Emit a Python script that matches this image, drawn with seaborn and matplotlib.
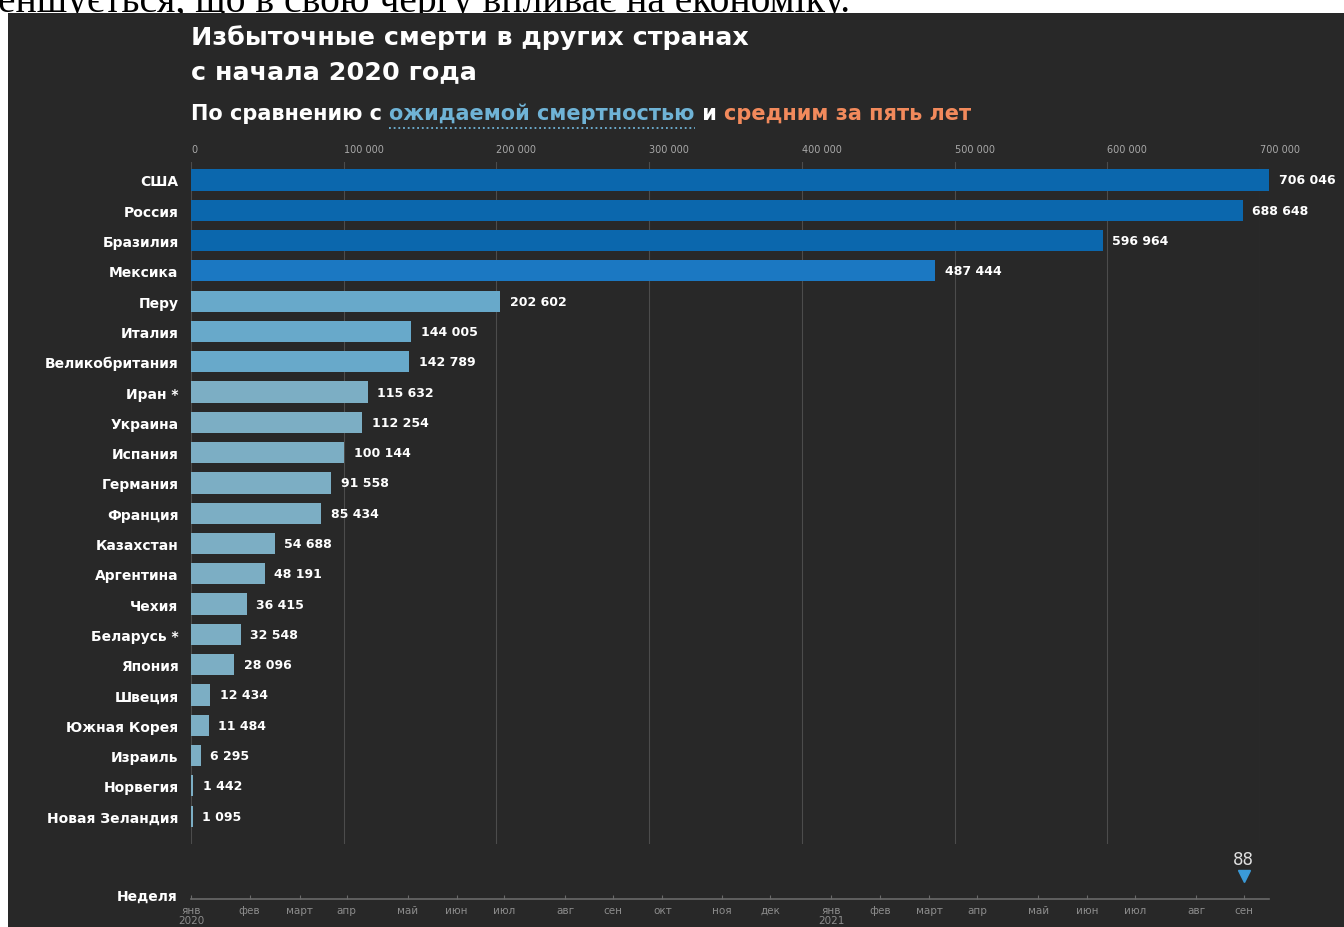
import matplotlib
matplotlib.use("Agg")
import matplotlib.pyplot as plt
import seaborn as sns
from matplotlib.patches import Rectangle
from matplotlib.lines import Line2D

# data
countries = ["США", "Россия", "Бразилия", "Мексика", "Перу", "Италия",
             "Великобритания", "Иран *", "Украина", "Испания", "Германия",
             "Франция", "Казахстан", "Аргентина", "Чехия", "Беларусь *",
             "Япония", "Швеция", "Южная Корея", "Израиль", "Норвегия",
             "Новая Зеландия"]
deaths = [706046, 688648, 596964, 487444, 202602, 144005, 142789, 115632,
          112254, 100144, 91558, 85434, 54688, 48191, 36415, 32548, 28096,
          12434, 11484, 6295, 1442, 1095]
xticks = [0, 100000, 200000, 300000, 400000, 500000, 600000, 700000]

month_labels = ["янв\n2020", "фев", "март", "апр", "май", "июн", "июл", "авг",
                "сен", "окт", "ноя", "дек", "янв\n2021", "фев", "март", "апр",
                "май", "июн", "июл", "авг", "сен"]
month_weeks = [0, 4.9, 9.1, 13, 18.1, 22.2, 26.2, 31.3, 35.3, 39.4, 44.4,
               48.4, 53.5, 57.6, 61.7, 65.7, 70.8, 74.9, 78.9, 84, 88]
current_week = 88

bg = "#282828"
dark_blue = "#0b67ad"
mid_blue = "#1b78c2"
light_blue = "#68a9ca"
pale_blue = "#7caec4"
colors = [dark_blue] * 3 + [mid_blue] + [light_blue] * 3 + [pale_blue] * 15

W, H = 1344, 928
fig = plt.figure(figsize=(W / 100, H / 100), dpi=100, facecolor="white")

# dark panel of the screenshot
fig.add_artist(Rectangle((8 / W, 0), 1, 1 - 14 / H, transform=fig.transFigure,
                         facecolor=bg, edgecolor="none", zorder=-5))
# cut-off line of the surrounding document
fig.text(-2 / W, 1 - 12 / H, "еншується, що в свою чергу впливає на економіку.",
         family="Liberation Serif", fontsize=28.5, color="black", va="baseline",
         ha="left", zorder=-6)

ax = fig.add_axes([191 / W, 1 - 845 / H, 1069 / W, (845 - 163) / H])
ax.set_facecolor("none")
sns.barplot(x=deaths, y=countries, hue=countries, palette=colors,
            saturation=1, legend=False, orient="h", width=0.7, ax=ax, zorder=3)
for p in ax.patches:
    p.set_clip_on(False)
ax.set_xlim(0, 700000)
ax.set_ylim(21.92, -0.594)
ax.xaxis.tick_top()
ax.set_xticks(xticks)
ax.set_xticklabels([f"{t:,}".replace(",", " ") for t in xticks], ha="left")
ax.tick_params(axis="x", length=0, pad=6, labelsize=7, labelcolor="#a8a8a8")
ax.tick_params(axis="y", length=0, pad=9, labelsize=10, labelcolor="white")
for lab in ax.get_yticklabels():
    lab.set_fontweight("bold")
ax.grid(axis="x", color="#4c4c4c", linewidth=0.8, zorder=0)
ax.grid(axis="y", visible=False)
for s in ax.spines.values():
    s.set_visible(False)
ax.set_xlabel("")
ax.set_ylabel("")

for i, v in enumerate(deaths):
    ax.annotate(f"{v:,}".replace(",", " "), xy=(v, i), xytext=(7, 0),
                textcoords="offset points", va="center", ha="left",
                color="white", fontsize=9, fontweight="bold",
                annotation_clip=False)

# titles
fig.text(191 / W, 1 - 45 / H, "Избыточные смерти в других странах",
         color="white", fontsize=18.3, fontweight="bold", va="baseline")
fig.text(191 / W, 1 - 79 / H, "с начала 2020 года",
         color="white", fontsize=18.3, fontweight="bold", va="baseline")

sub = dict(fontsize=15, fontweight="bold", va="bottom", ha="left")
t1 = fig.text(191 / W, 1 - 124 / H, "По сравнению с ", color="white", **sub)
t2 = ax.annotate("ожидаемой смертностью", xy=(1, 0), xycoords=t1,
                 color="#6fb3d6", annotation_clip=False, **sub)
t3 = ax.annotate(" и ", xy=(1, 0), xycoords=t2, color="white",
                 annotation_clip=False, **sub)
ax.annotate("средним за пять лет", xy=(1, 0), xycoords=t3, color="#f28a5c",
            annotation_clip=False, **sub)

# week timeline
ax2 = fig.add_axes([191 / W, 1 - 900 / H, (1269 - 191) / W, 50 / H])
ax2.set_facecolor("none")
ax2.set_xlim(0, 90.1)
ax2.set_ylim(0, 1)
for s in ["top", "left", "right"]:
    ax2.spines[s].set_visible(False)
ax2.spines["bottom"].set_color("#6a6a6a")
ax2.spines["bottom"].set_linewidth(1.2)
ax2.set_yticks([])
ax2.set_xticks(month_weeks)
ax2.set_xticklabels(month_labels, linespacing=1.0)
ax2.tick_params(axis="x", direction="in", length=3, color="#6a6a6a",
                labelsize=7.5, labelcolor="#8c8c8c", pad=4)
ax2.plot([current_week], [0.46], marker="v", markersize=9, color="#3a9ad8",
         linestyle="none", clip_on=False)
ax2.text(current_week, 0.8, str(current_week), ha="center", va="center",
         color="#e0e0e0", fontsize=12)
fig.text(178 / W, 1 - 897 / H, "Неделя", ha="right", va="center",
         color="white", fontsize=10, fontweight="bold")

# dotted underline below the blue part of the subtitle
fig.canvas.draw()
bb = t2.get_window_extent().transformed(fig.transFigure.inverted())
fig.add_artist(Line2D([bb.x0, bb.x1], [1 - 129 / H] * 2, transform=fig.transFigure,
                      color="#6fb3d6", linewidth=1.3, linestyle=(0, (1, 1.6))))

fig.savefig("out.png", dpi=100, facecolor="white")
